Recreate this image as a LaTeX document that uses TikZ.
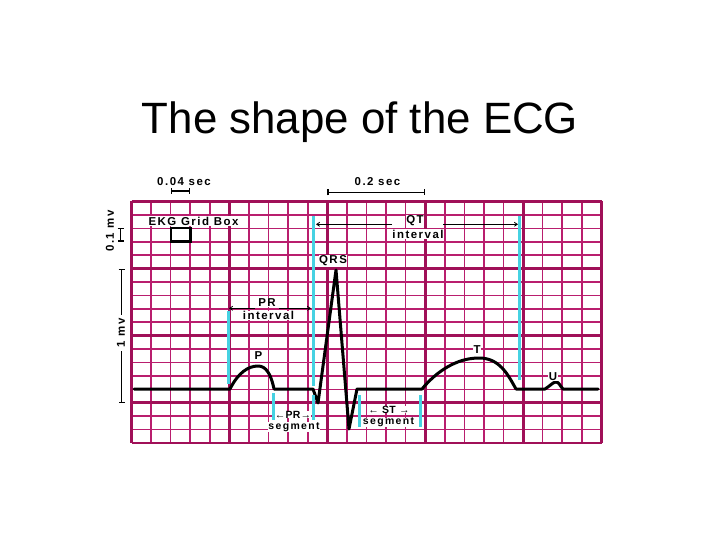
\documentclass[tikz,border=0pt]{standalone}
\usepackage{fontspec}
\setmainfont{Liberation Sans}
\newfontfamily\lblfont[LetterSpace=13]{Liberation Sans}
\newfontfamily\segfont[LetterSpace=3]{Liberation Sans}
\usetikzlibrary{arrows.meta}

\definecolor{gridmaj}{RGB}{160,16,88}
\definecolor{gridmin}{RGB}{185,30,110}
\definecolor{mark}{RGB}{70,210,226}

\begin{document}
\begin{tikzpicture}[
  x=1bp, y=-1bp,
  lbl/.style={font=\lblfont\bfseries\fontsize{11.5}{12}\selectfont, fill=white, inner sep=0.5pt},
  seglbl/.style={lbl, font=\lblfont\bfseries\fontsize{10.5}{11}\selectfont, inner sep=0pt},
  arrlbl/.style={lbl, font=\segfont\bfseries\fontsize{10.5}{11}\selectfont, inner sep=0pt},
  gridminor/.style={line width=1.6bp, color=gridmin},
  gridmajor/.style={line width=2.8bp, color=gridmaj},
  marker/.style={line width=3bp, color=mark},
  trace/.style={line width=3bp, line join=round, line cap=round},
  dim/.style={line width=1.2bp, {Bar[width=6bp]}-{Bar[width=6bp]}},
  arr/.style={-{Straight Barb[length=3bp,width=4bp]}, line width=0.8bp},
]
\useasboundingbox (0,0) rectangle (720,540);

% grid: 24 x 18 small boxes
\def\gx{19.58}
\def\gy{13.42}
\foreach \i in {0,...,24}
  \draw[gridminor] ({131.5+\i*\gx},201.5) -- ({131.5+\i*\gx},443);
\foreach \j in {0,...,18}
  \draw[gridminor] (131.5,{201.5+\j*\gy}) -- (601.5,{201.5+\j*\gy});
\foreach \i in {0,5,10,15,20,24}
  \draw[gridmajor] ({131.5+\i*\gx},201.5) -- ({131.5+\i*\gx},443);
\foreach \j in {0,5,10,15,18}
  \draw[gridmajor] (131.5,{201.5+\j*\gy}) -- (601.5,{201.5+\j*\gy});

% title
\node[font=\fontsize{44}{50}\selectfont, anchor=base] (title) at (360,133.3) {The shape of the ECG};

% scale marks
\node[lbl] (sec04) at (184,181.5) {0.04 sec};
\node[lbl] (sec2)  at (377.5,181.5) {0.2 sec};
\draw[dim] (170.7,191) -- (190.3,191);
\draw[dim] (327.3,192.5) -- (425.2,192.5);
\node[lbl] (gridbox) at (193.5,221) {EKG Grid Box};
\draw[line width=2.4bp] (170.7,228.3) rectangle (190.3,241.7);
\node[lbl, rotate=90] (mv01) at (110,231) {0.1 mv};
\draw[dim] (120.5,228.3) -- (120.5,241.7);
\draw[dim] (121.7,268.6) -- (121.7,402.8);
\node[lbl, rotate=90, inner sep=3pt] (mv1) at (121,333) {1 mv};

% ECG trace
\draw[trace] (134,389) -- (230,389)
  .. controls (238,373) and (248,366) .. (258,366)
  .. controls (266,366) and (271,374) .. (274,389) -- (313,389)
  -- (318,403) -- (336,270) -- (349,429) -- (357,389) -- (422,389)
  .. controls (436,372) and (456,358) .. (479,358)
  .. controls (500,358) and (508,375) .. (516,389) -- (545,389)
  .. controls (550,386) and (553,382) .. (556,382)
  .. controls (559,382) and (560,386) .. (563,389) -- (598,389);

% wave labels
\node[lbl] (qrs) at (333,261) {QRS};
\node[lbl] (pwave) at (258.5,356) {P};
\node[lbl] (twave) at (477,349.5) {T};
\node[lbl] (uwave) at (553,376.5) {U};

% intervals
\node[lbl] (qt) at (415,221) {QT};
\node[lbl] (qtint) at (418,234) {interval};
\coordinate (qtA) at (392,224.3);
\coordinate (qtB) at (443,224.3);
\coordinate (qtL) at (316,224.3);
\coordinate (qtR) at (518,224.3);
\draw[arr] (qtA) -- (qtL);
\draw[arr] (qtB) -- (qtR);

\node[lbl] (pr) at (267,302.5) {PR};
\node[lbl] (print) at (268.5,315.5) {interval};
\coordinate (prA) at (255,308.3);
\coordinate (prB) at (279,308.3);
\coordinate (prL) at (229,308.3);
\coordinate (prR) at (311,308.3);
\draw[arr] (prA) -- (prL);
\draw[arr] (prB) -- (prR);

\node[arrlbl] (prseg) at (293,414.5) {←PR→};
\node[seglbl] (prsegt) at (294,427) {segment};
\node[arrlbl] (stseg) at (389,409.5) {← ST →};
\node[seglbl] (stsegt) at (388.5,422.5) {segment};

% markers
\draw[marker] (228,310.5) -- (228,384);
\draw[marker] (313.5,216.5) -- (313.5,386);
\draw[marker] (313.5,395) -- (313.5,420);
\draw[marker] (273.3,393) -- (273.3,420);
\draw[marker] (359,395) -- (359,427);
\draw[marker] (420,395) -- (420,427);
\draw[marker] (519,216.5) -- (519,380);
\end{tikzpicture}
\end{document}
